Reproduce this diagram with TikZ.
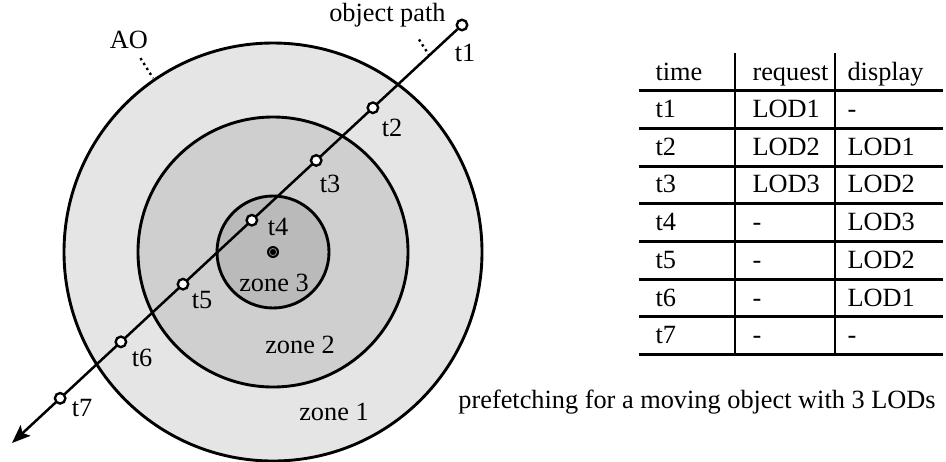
\documentclass[tikz,border=0pt]{standalone}
\usepackage{fontspec}
\setmainfont{Liberation Serif}
\usetikzlibrary{arrows.meta, calc}

\begin{document}
\begin{tikzpicture}[x=0.38pt, y=-0.38pt,
    zone/.style={draw, line width=1.1pt},
    stop/.style={circle, draw, fill=white, line width=0.9pt, inner sep=0pt, minimum size=4pt},
    leader/.style={line width=0.9pt, dash pattern=on 0.9pt off 1.3pt},
    arrow/.style={-{Stealth[length=7pt, width=5.5pt, inset=1.5pt]}, line width=0.95pt},
    rule/.style={line width=1.1pt},
    cell/.style={anchor=base west, inner sep=0pt}]
  \useasboundingbox (0,0) rectangle (946,461);
  % zones around the AO
  \coordinate (ao) at (273,252);
  \draw[zone, fill=black!10] (ao) circle[radius=209];
  \draw[zone, fill=black!19] (ao) circle[radius=135];
  \draw[zone, fill=black!27] (ao) circle[radius=56];
  \fill (ao) circle[radius=6];
  \draw[gray, line width=0.35pt] (ao) circle[radius=3.6];
  \node (z1) at (334,412) {zone 1};
  \node (z2) at (300,345) {zone 2};
  \node (z3) at (274,283) {zone 3};
  \node (aolabel) at (129,40) {AO};
  \coordinate (aoend) at (153,78);
  \draw[leader] (aolabel) -- (aoend);

  % object path
  \node[stop] (s1) at (462,25) {};
  \coordinate (tip) at (12,443);
  \draw[arrow] (s1) -- (tip);
  \foreach \i/\f in {2/0.198, 3/0.324, 4/0.467, 5/0.62, 6/0.758, 7/0.893}
    \node[stop] (s\i) at ($(s1.center)!\f!(tip)$) {};
  \foreach \i/\x/\y in {1/465/53, 2/392/128, 3/330/184, 4/278/227, 5/202/300, 6/142/358, 7/82/408}
    \node (t\i) at (\x,\y) {t\i};
  \node[anchor=east, inner sep=0pt] (opath) at (446,15) {object path};
  \coordinate (opend) at (429,55);
  \draw[leader] ($(opath.south east)+(-27,12)$) -- (opend);

  % table
  \foreach \k in {0,...,7}
    \draw[rule] (639,{90.7+37.7*\k}) -- (943,{90.7+37.7*\k});
  \draw[rule] (735,53) -- (735,355);
  \draw[rule] (835,53) -- (835,355);
  \node[cell] (htime) at (655,80) {time};
  \node[cell] (hreq) at (752,80) {request};
  \node[cell] (hdisp) at (847,80) {display};
  \foreach \r/\d [count=\i] in {LOD1/-, LOD2/LOD1, LOD3/LOD2, -/LOD3, -/LOD2, -/LOD1, -/-} {
    \node[cell] (time\i) at (655,{90.7+37.7*(\i-0.5)+8}) {t\i};
    \node[cell] (req\i) at (752,{90.7+37.7*(\i-0.5)+8}) {\r};
    \node[cell] (disp\i) at (847,{90.7+37.7*(\i-0.5)+8}) {\d};
  }
  \node (caption) at (697,402) {prefetching for a moving object with 3 LODs};
\end{tikzpicture}
\end{document}
